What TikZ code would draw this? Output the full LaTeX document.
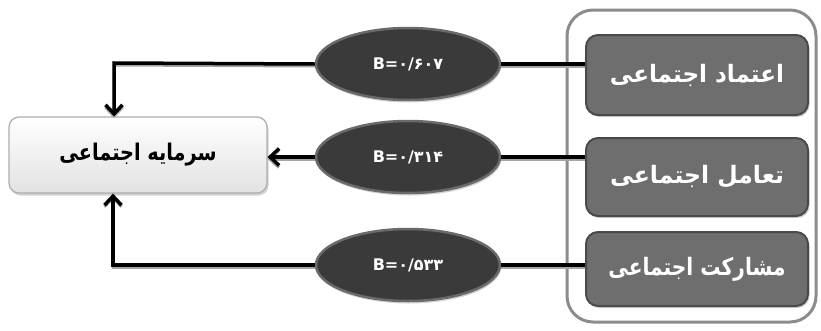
\documentclass[tikz,border=0pt]{standalone}
\usepackage{fontspec}
\usetikzlibrary{arrows.meta,shapes.geometric,shadows}
\TeXXeTstate=1
\newfontfamily\fafont[Script=Arabic]{DejaVu Sans}

\definecolor{boxdark}{HTML}{6E6E6E}
\definecolor{boxedge}{HTML}{4A4A4A}
\definecolor{ovalfill}{HTML}{3A3A3A}
\definecolor{ovaledge}{HTML}{6A6A6A}
\definecolor{frameedge}{HTML}{8C8C8C}
\definecolor{lightedge}{HTML}{ADADAD}
\definecolor{lightbot}{HTML}{E2E2E2}

\tikzset{
  factor/.style={draw=boxedge, line width=2pt, fill=boxdark, rounded corners=12pt,
    minimum width=222pt, text=white, font=\fafont\bfseries\fontsize{24}{28}\selectfont,
    drop shadow={shadow xshift=1.5pt, shadow yshift=-2pt, opacity=0.35}},
  outcome/.style={draw=lightedge, line width=1.2pt, rounded corners=10pt,
    top color=white, bottom color=lightbot, minimum width=258pt, minimum height=76pt,
    font=\fafont\bfseries\fontsize{23}{27}\selectfont,
    drop shadow={shadow xshift=1.5pt, shadow yshift=-2.5pt, opacity=0.35}},
  coef/.style={ellipse, draw=ovaledge, line width=2.5pt, fill=ovalfill, text=white,
    minimum width=184pt, minimum height=72pt, inner sep=0pt,
    font=\fafont\bfseries\fontsize{16}{19}\selectfont,
    drop shadow={shadow xshift=1pt, shadow yshift=-2.5pt, opacity=0.35}},
  link/.style={line width=3.5pt, line join=miter,
    preaction={draw=black!35, line width=3pt, transform canvas={yshift=-2pt}}},
  linkarrow/.style={link, -{Straight Barb[length=9pt,width=17pt]}},
}

\begin{document}
\begin{tikzpicture}[x=1pt,y=-1pt]
\useasboundingbox (0,0) rectangle (821,330);

% group frame around the three factors
\draw[frameedge, line width=3pt, fill=white, rounded corners=26pt]
  (567,10) rectangle (816,322);

% bend points of the outer connectors
\coordinate (topbend) at (114,63);
\coordinate (botbend) at (113,265);

% factor boxes (labels narrowed to a common width)
\node[factor, minimum height=80pt] (trust) at (697,75)
  {\scalebox{0.96}[1]{\beginR اعتماد اجتماعی\endR}};
\node[factor, minimum height=78pt] (inter) at (697,177)
  {\scalebox{0.98}[1]{\beginR تعامل اجتماعی\endR}};
\node[factor, minimum height=74pt] (part) at (697,269)
  {\scalebox{0.84}[1]{\beginR مشارکت اجتماعی\endR}};

% outcome box
\node[outcome] (capital) at (138,155)
  {\scalebox{0.84}[1]{\beginR سرمایه اجتماعی\endR}};

% coefficient ovals
\node[coef] (b1) at (408,64) {B=۰/۶۰۷};
\node[coef] (b2) at (408,157) {B=۰/۳۱۴};
\node[coef] (b3) at (408,265) {B=۰/۵۳۳};

% connectors
\draw[link] (b1.east) -- (b1.east -| trust.west);
\draw[link] (b2.east) -- (b2.east -| inter.west);
\draw[link] (b3.east) -- (b3.east -| part.west);
\draw[linkarrow] (b1.west) -- (topbend) -- (topbend |- capital.north);
\draw[linkarrow] (b2.west) -- (b2.west -| capital.east);
\draw[linkarrow] (b3.west) -- (botbend) -- (botbend |- capital.south);
\end{tikzpicture}
\end{document}
